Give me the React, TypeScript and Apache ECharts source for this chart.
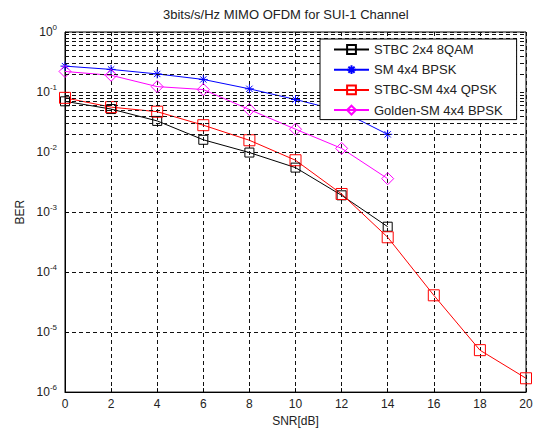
import React, { useEffect, useRef } from 'react';
import * as echarts from 'echarts';

const snrDb = [0, 2, 4, 6, 8, 10, 12, 14, 16, 18, 20];
const stbc8qam = [0.07, 0.052, 0.033, 0.016, 0.0098, 0.0055, 0.0019, 0.00057];
const sm4x4Bpsk = [0.27, 0.238, 0.2, 0.162, 0.113, 0.075, 0.048, 0.0197];
const stbcSm4x4Qpsk = [0.08, 0.056, 0.047, 0.028, 0.0157, 0.0073, 0.002, 0.00038, 0.000041, 0.000005, 0.0000017];
const goldenSm4x4Bpsk = [0.22, 0.19, 0.123, 0.11, 0.051, 0.024, 0.0115, 0.0036];
const seriesNames = ['STBC 2x4 8QAM', 'SM 4x4 BPSK', 'STBC-SM 4x4 QPSK', 'Golden-SM 4x4 BPSK'];
const minorMultipliers = [2, 3, 4, 5, 6, 7, 8, 9];
const decadeExponents = [-6, -5, -4, -3, -2, -1];

const FONT = 'Liberation Sans, Arial, sans-serif';
const TXT = '#222';
const GRID_DASH = { color: '#111', width: 1, type: [4, 3] as any };

function pairs(vals: number[]) {
  return vals.map((v, i) => [snrDb[i], v]);
}

export default function App() {
  const ref = useRef<HTMLDivElement>(null);
  useEffect(() => {
    document.body.style.margin = '0';
    const chart = echarts.init(ref.current!, null, { renderer: 'svg' });
    const minorLines: any[] = [];
    decadeExponents.forEach((e) => {
      minorMultipliers.forEach((m) => minorLines.push({ yAxis: m * Math.pow(10, e) }));
    });
    const option: any = {
      animation: false,
      backgroundColor: '#fff',
      textStyle: { fontFamily: FONT },
      graphic: [
        {
          type: 'text',
          left: 163,
          top: 8,
          style: { text: '3bits/s/Hz MIMO OFDM for SUI-1 Channel', font: `13px ${FONT}`, fill: TXT },
        },
      ],
      grid: { left: 65, right: 12, top: 32, bottom: 39, show: true, borderColor: '#000', borderWidth: 1, backgroundColor: 'transparent' },
      legend: {
        z: 20,
        zlevel: 0,
        orient: 'vertical',
        left: 320,
        top: 39,
        padding: [4, 14, 3, 13],
        itemGap: 7.2,
        itemWidth: 35,
        itemHeight: 11,
        backgroundColor: '#fff',
        borderColor: '#000',
        borderWidth: 1,
        borderRadius: 0,
        textStyle: { fontSize: 13, color: TXT, fontFamily: FONT },
        data: seriesNames,
      },
      xAxis: {
        type: 'value',
        min: 0,
        max: 20,
        interval: 2,
        name: 'SNR[dB]',
        nameLocation: 'middle',
        nameGap: 22,
        nameTextStyle: { fontSize: 12, color: TXT, fontFamily: FONT },
        axisLine: { lineStyle: { color: '#000' } },
        axisTick: { inside: true, length: 4, lineStyle: { color: '#000' } },
        axisLabel: { fontSize: 12, color: TXT, margin: 6, fontFamily: FONT },
        splitLine: { show: true, lineStyle: GRID_DASH },
      },
      yAxis: {
        type: 'log',
        logBase: 10,
        min: 1e-6,
        max: 1,
        interval: 1,
        name: 'BER',
        nameLocation: 'middle',
        nameGap: 38,
        nameTextStyle: { fontSize: 12, color: TXT, fontFamily: FONT },
        axisLine: { show: true, lineStyle: { color: '#000' } },
        axisTick: { show: true, inside: true, length: 4, lineStyle: { color: '#000' } },
        axisLabel: {
          margin: 8,
          formatter: (v: number) => `{b|10}{s|${Math.round(Math.log10(v))}}`,
          rich: {
            b: { fontSize: 12, color: TXT, fontFamily: FONT },
            s: { fontSize: 8, color: TXT, fontFamily: FONT, padding: [0, 0, 9, 0] },
          },
        },
        splitLine: { show: true, lineStyle: GRID_DASH },
      },
      series: [
        {
          name: 'minor-grid',
          type: 'line',
          data: [],
          silent: true,
          z: 1,
          markLine: {
            silent: true,
            symbol: 'none',
            label: { show: false },
            lineStyle: GRID_DASH,
            data: minorLines,
          },
        },
        {
          name: seriesNames[0],
          type: 'line',
          z: 2,
          data: pairs(stbc8qam),
          symbol: 'rect',
          symbolSize: 9,
          lineStyle: { color: '#000', width: 1 },
          itemStyle: { color: 'transparent', borderColor: '#000', borderWidth: 1 },
        },
        {
          name: seriesNames[1],
          type: 'line',
          z: 2,
          data: pairs(sm4x4Bpsk),
          symbol: 'path://M5,0L5,10M0,5L10,5M1.5,1.5L8.5,8.5M1.5,8.5L8.5,1.5',
          symbolSize: 9,
          lineStyle: { color: '#0000ff', width: 1 },
          itemStyle: { color: 'transparent', borderColor: '#0000ff', borderWidth: 1 },
        },
        {
          name: seriesNames[2],
          type: 'line',
          z: 2,
          data: pairs(stbcSm4x4Qpsk),
          symbol: 'rect',
          symbolSize: 11,
          lineStyle: { color: '#ff0000', width: 1 },
          itemStyle: { color: 'transparent', borderColor: '#ff0000', borderWidth: 1 },
        },
        {
          name: seriesNames[3],
          type: 'line',
          z: 2,
          data: pairs(goldenSm4x4Bpsk),
          symbol: 'diamond',
          symbolSize: 12,
          lineStyle: { color: '#ff00ff', width: 1 },
          itemStyle: { color: 'transparent', borderColor: '#ff00ff', borderWidth: 1 },
        },
      ],
    };
    chart.setOption(option);
    return () => chart.dispose();
  }, []);
  return <div ref={ref} style={{ width: 538, height: 432 }} />;
}
